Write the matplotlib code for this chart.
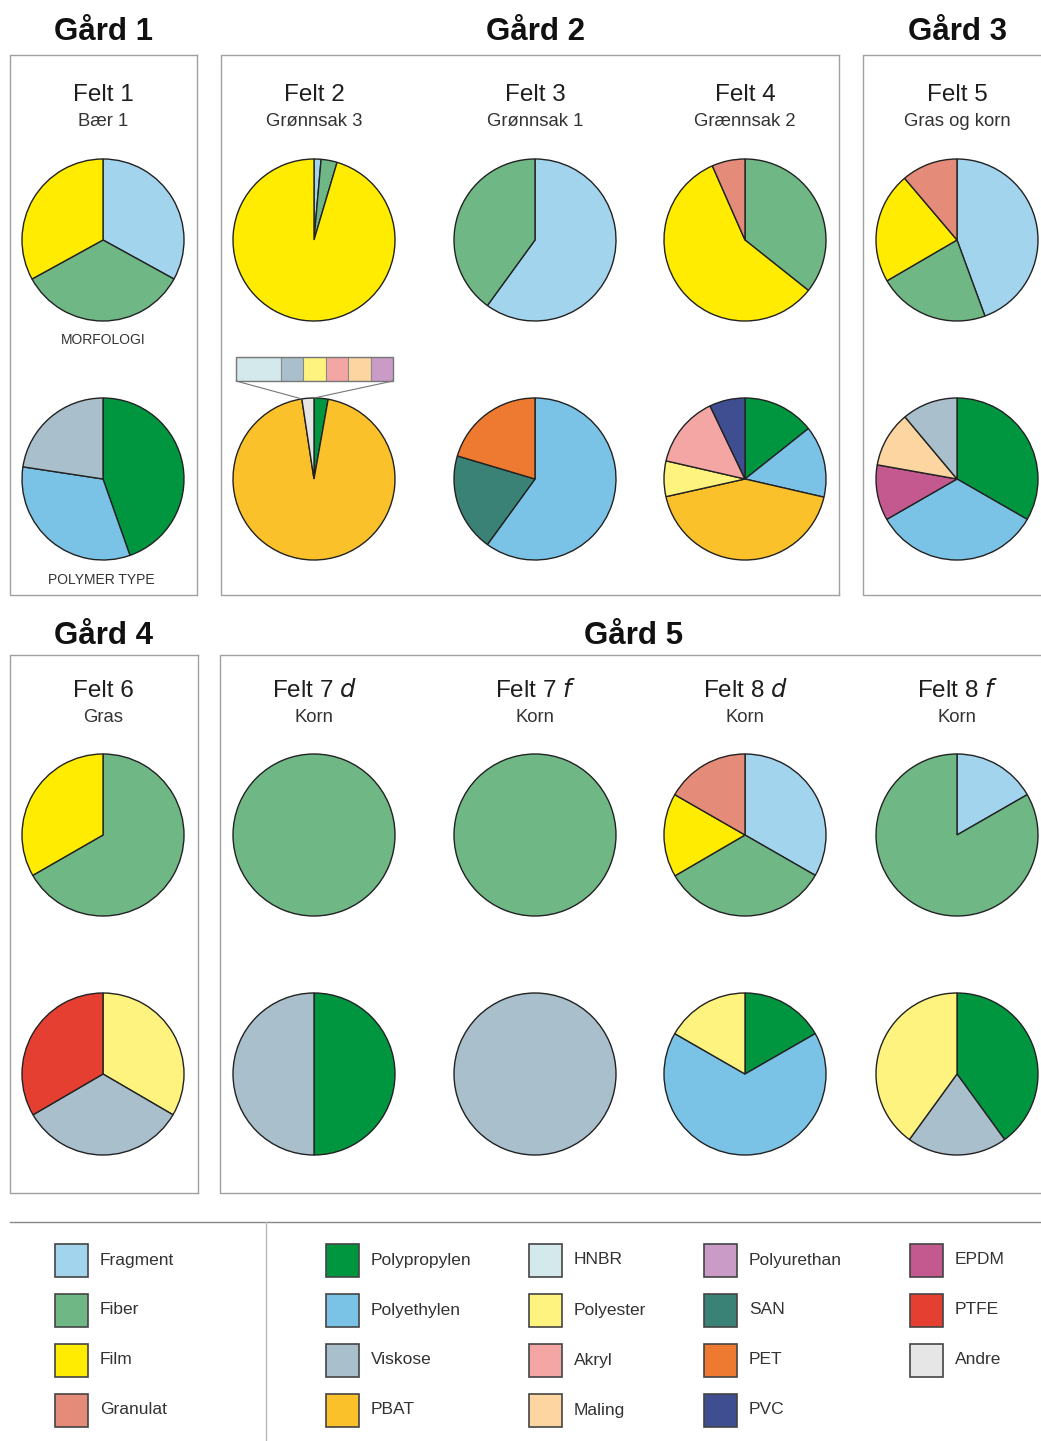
import numpy as np
import matplotlib
matplotlib.use("Agg")
import matplotlib.pyplot as plt
from matplotlib.patches import Rectangle, ConnectionPatch

plt.rcParams['font.family'] = ['Liberation Sans', 'DejaVu Sans']

# ---------------- data ----------------
morf_types = ['Fragment', 'Fiber', 'Film', 'Granulat']

felt1_morf = [33.0, 34.0, 33.0, 0.0]
felt2_morf = [1.4, 3.2, 95.4, 0.0]
felt3_morf = [60.0, 40.0, 0.0, 0.0]
felt4_morf = [0.0, 35.7, 57.7, 6.6]
felt5_morf = [44.4, 22.2, 22.2, 11.2]
felt6_morf = [0.0, 66.7, 33.3, 0.0]
felt7d_morf = [0.0, 100.0, 0.0, 0.0]
felt7f_morf = [0.0, 100.0, 0.0, 0.0]
felt8d_morf = [33.3, 33.3, 16.7, 16.7]
felt8f_morf = [16.7, 83.3, 0.0, 0.0]

felt1_poly_types = ['Polypropylen', 'Polyethylen', 'Viskose']
felt1_poly = [44.6, 32.8, 22.6]
felt2_poly_types = ['Polypropylen', 'PBAT', 'Andre']
felt2_poly = [2.8, 94.8, 2.4]
felt3_poly_types = ['Polyethylen', 'SAN', 'PET']
felt3_poly = [60.0, 19.6, 20.4]
felt4_poly_types = ['Polypropylen', 'Polyethylen', 'PBAT', 'Polyester', 'Akryl', 'PVC']
felt4_poly = [14.3, 14.3, 42.9, 7.1, 14.3, 7.1]
felt5_poly_types = ['Polypropylen', 'Polyethylen', 'EPDM', 'Maling', 'Viskose']
felt5_poly = [33.3, 33.4, 11.1, 11.1, 11.1]
felt6_poly_types = ['Polyester', 'Viskose', 'PTFE']
felt6_poly = [33.4, 33.2, 33.4]
felt7d_poly_types = ['Polypropylen', 'Viskose']
felt7d_poly = [50.0, 50.0]
felt7f_poly_types = ['Viskose']
felt7f_poly = [100.0]
felt8d_poly_types = ['Polypropylen', 'Polyethylen', 'Polyester']
felt8d_poly = [16.7, 66.6, 16.7]
felt8f_poly_types = ['Polypropylen', 'Viskose', 'Polyester']
felt8f_poly = [40.0, 20.0, 40.0]

# "Andre" i felt 2 brutt ned
andre_types = ['HNBR', 'Viskose', 'Polyester', 'Akryl', 'Maling', 'Polyurethan']
andre_vals = [2, 1, 1, 1, 1, 1]

gard_names = ['Gård 1', 'Gård 2', 'Gård 3', 'Gård 4', 'Gård 5']
felt_titles = ['Felt 1', 'Felt 2', 'Felt 3', 'Felt 4', 'Felt 5',
               'Felt 6', 'Felt 7', 'Felt 7', 'Felt 8', 'Felt 8']
felt_suffix = ['', '', '', '', '', '', 'd', 'f', 'd', 'f']
felt_sub = ['Bær 1', 'Grønnsak 3', 'Grønnsak 1', 'Grænnsak 2', 'Gras og korn',
            'Gras', 'Korn', 'Korn', 'Korn', 'Korn']

legend_cols = [
    ['Fragment', 'Fiber', 'Film', 'Granulat'],
    ['Polypropylen', 'Polyethylen', 'Viskose', 'PBAT'],
    ['HNBR', 'Polyester', 'Akryl', 'Maling'],
    ['Polyurethan', 'SAN', 'PET', 'PVC'],
    ['EPDM', 'PTFE', 'Andre'],
]

colors = {
    'Fragment': '#a3d4ee', 'Fiber': '#6fb886', 'Film': '#ffec00', 'Granulat': '#e58b79',
    'Polypropylen': '#00953f', 'Polyethylen': '#7bc3e6', 'Viskose': '#a9bfcb',
    'PBAT': '#fbc12a', 'HNBR': '#d4e9eb', 'Polyester': '#fff380', 'Akryl': '#f4a6a4',
    'Maling': '#fdd5a0', 'Polyurethan': '#c99bc6', 'SAN': '#3a8275', 'PET': '#ee7a31',
    'PVC': '#3e4e90', 'EPDM': '#c3598f', 'PTFE': '#e53f32', 'Andre': '#e6e6e6',
}

# ---------------- figure ----------------
W, H = 1041, 1441
fig = plt.figure(figsize=(W / 100, H / 100), dpi=100)
fig.patch.set_facecolor('white')
bg = fig.add_axes([0, 0, 1, 1])
bg.set_xlim(0, W)
bg.set_ylim(H, 0)
bg.axis('off')

box_col = '#a0a0a0'
txt_col = '#1e1e1e'


def box(x0, y0, x1, y1, right=True):
    bg.plot([x1, x0, x0, x1], [y0, y0, y1, y1], color=box_col, lw=1.0)
    if right:
        bg.plot([x1, x1], [y0, y1], color=box_col, lw=1.0)


box(10, 55, 197, 595)
box(221, 55, 839, 595)
box(863, 55, W + 5, 595, right=False)
box(10, 655, 198, 1193)
box(220, 655, W + 5, 1193, right=False)

# gård titles (baseline positions)
for name, (x, y) in zip(gard_names, [(103, 40), (536, 40), (957, 40), (104, 644), (634, 644)]):
    bg.text(x, y, name, ha='center', va='baseline', fontsize=22.5, fontweight='bold', color='#111111')

col_x = [103, 314, 535, 745, 957]
row_title_y = [101, 697]
for i, (t, suf, sub) in enumerate(zip(felt_titles, felt_suffix, felt_sub)):
    x = col_x[i % 5]
    y = row_title_y[i // 5]
    label = t if not suf else t + ' $\\mathit{' + suf + '}$'
    bg.text(x, y, label, ha='center', va='baseline', fontsize=17.5, color=txt_col)
    bg.text(x, y + 25, sub, ha='center', va='baseline', fontsize=13.3, color='#333333')

bg.text(103, 344, 'MORFOLOGI', ha='center', va='baseline', fontsize=10, color='#333333')
bg.text(101, 584, 'POLYMER TYPE', ha='center', va='baseline', fontsize=10, color='#333333')

# pies
R = 81
L = 1.05


def pie_ax(cx, cy):
    s = 2 * R * L
    ax = fig.add_axes([(cx - s / 2) / W, 1 - (cy + s / 2) / H, s / W, s / H])
    ax.set_xlim(-L, L)
    ax.set_ylim(-L, L)
    ax.set_aspect('equal')
    ax.axis('off')
    return ax


def draw_pie(ax, labels, vals):
    keep = [(l, v) for l, v in zip(labels, vals) if v > 0]
    ax.pie([v for _, v in keep], colors=[colors[l] for l, _ in keep],
           startangle=90, counterclock=False, radius=1,
           wedgeprops=dict(edgecolor='#222222', linewidth=1.0))
    ax.set_xlim(-L, L)
    ax.set_ylim(-L, L)


morfs = [felt1_morf, felt2_morf, felt3_morf, felt4_morf, felt5_morf,
         felt6_morf, felt7d_morf, felt7f_morf, felt8d_morf, felt8f_morf]
polys = [(felt1_poly_types, felt1_poly), (felt2_poly_types, felt2_poly),
         (felt3_poly_types, felt3_poly), (felt4_poly_types, felt4_poly),
         (felt5_poly_types, felt5_poly), (felt6_poly_types, felt6_poly),
         (felt7d_poly_types, felt7d_poly), (felt7f_poly_types, felt7f_poly),
         (felt8d_poly_types, felt8d_poly), (felt8f_poly_types, felt8f_poly)]
pie_rows = [(240, 479), (835, 1074)]

poly_axes = []
for i in range(10):
    x = col_x[i % 5]
    ym, yp = pie_rows[i // 5]
    draw_pie(pie_ax(x, ym), morf_types, morfs[i])
    axp = pie_ax(x, yp)
    draw_pie(axp, polys[i][0], polys[i][1])
    poly_axes.append(axp)

# inset bar for "Andre" in felt 2
bx0, by0, bx1, by1 = 236, 357, 393, 381
iax = fig.add_axes([bx0 / W, 1 - by1 / H, (bx1 - bx0) / W, (by1 - by0) / H])
lefts = np.concatenate([[0], np.cumsum(andre_vals)[:-1]])
iax.barh(0, andre_vals, left=lefts, height=1.0,
         color=[colors[t] for t in andre_types], edgecolor='#8a8a8a', linewidth=0.8)
iax.set_xlim(0, sum(andre_vals))
iax.set_ylim(-0.5, 0.5)
iax.axis('off')
iax.add_patch(Rectangle((0, -0.5), sum(andre_vals), 1.0, fill=False,
                        edgecolor='#777777', lw=1.0, clip_on=False))

andre_frac = felt2_poly[2] / sum(felt2_poly)
a_start = np.deg2rad(90 + andre_frac * 360)
pax = poly_axes[1]
for xa, pb in [(0, (np.cos(a_start), np.sin(a_start))), (1, (0.0, 1.0))]:
    con = ConnectionPatch(xyA=(xa, 0), coordsA=iax.transAxes, xyB=pb, coordsB=pax.transData,
                          color='#777777', lw=0.8)
    fig.add_artist(con)

# legend
bg.plot([10, W], [1222, 1222], color='#888888', lw=1.0)
bg.plot([266, 266], [1222, H], color='#bbbbbb', lw=1.0)
leg_sq_x = [55, 326, 529, 704, 910]
leg_y = [1260, 1310, 1360, 1410]
sq = 33
for cx, items in zip(leg_sq_x, legend_cols):
    for name, y in zip(items, leg_y):
        bg.add_patch(Rectangle((cx, y - sq / 2), sq, sq, facecolor=colors[name],
                               edgecolor='#444444', lw=1.2))
        bg.text(cx + sq + 12, y, name, ha='left', va='center', fontsize=12.5, color='#333333')

fig.savefig('out.png', dpi=100, facecolor='white')
